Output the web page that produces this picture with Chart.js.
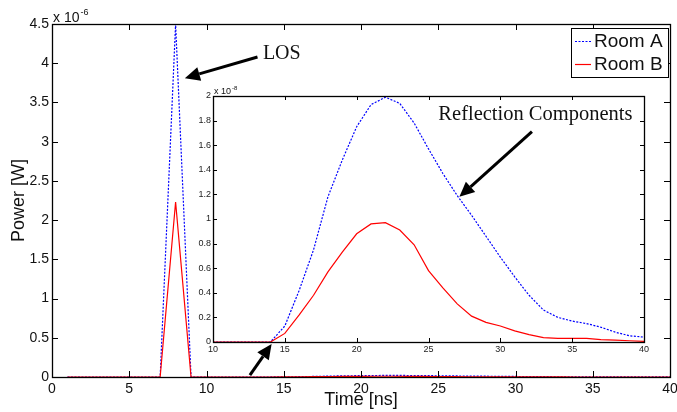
<!DOCTYPE html>
<html>
<head>
<meta charset="utf-8">
<script src="https://cdn.jsdelivr.net/npm/chart.js@4.4.1/dist/chart.umd.min.js"></script>
<style>
  html, body { margin: 0; padding: 0; background: #fff; }
  #wrap { position: relative; width: 677px; height: 412px; }
  canvas { position: absolute; left: 0; top: 0; }
</style>
</head>
<body>
<div id="wrap">
  <canvas id="mainChart" width="677" height="412"></canvas>
  <canvas id="insetChart" width="677" height="412"></canvas>
</div>
<script>
// time axis [ns]
const timeNs = [1, 2, 3, 4, 5, 6, 7, 8, 9, 10, 11, 12, 13, 14, 15, 16, 17, 18, 19, 20,
                21, 22, 23, 24, 25, 26, 27, 28, 29, 30, 31, 32, 33, 34, 35, 36, 37, 38, 39, 40];

// received power [W]
const roomA = [0, 0, 0, 0, 0, 0, 0, 4.5e-6, 0, 0, 0, 0, 0, 0,
  0.13e-8, 0.42e-8, 0.75e-8, 1.18e-8, 1.48e-8, 1.75e-8, 1.93e-8, 1.99e-8, 1.94e-8, 1.78e-8,
  1.57e-8, 1.37e-8, 1.19e-8, 1.03e-8, 0.86e-8, 0.69e-8, 0.53e-8, 0.38e-8, 0.26e-8, 0.20e-8,
  0.17e-8, 0.15e-8, 0.12e-8, 0.08e-8, 0.05e-8, 0.04e-8];
const roomB = [0, 0, 0, 0, 0, 0, 0, 2.23e-6, 0, 0, 0, 0, 0, 0,
  0.07e-8, 0.22e-8, 0.38e-8, 0.57e-8, 0.73e-8, 0.88e-8, 0.96e-8, 0.97e-8, 0.91e-8, 0.79e-8,
  0.58e-8, 0.44e-8, 0.31e-8, 0.21e-8, 0.16e-8, 0.13e-8, 0.09e-8, 0.06e-8, 0.035e-8, 0.03e-8,
  0.03e-8, 0.03e-8, 0.02e-8, 0.015e-8, 0.01e-8, 0.005e-8];

// tick values / labels
const mainXTicks = [0, 5, 10, 15, 20, 25, 30, 35, 40];
const mainYTicks = [0, 0.5e-6, 1e-6, 1.5e-6, 2e-6, 2.5e-6, 3e-6, 3.5e-6, 4e-6, 4.5e-6];
const mainYLabels = ['0', '0.5', '1', '1.5', '2', '2.5', '3', '3.5', '4', '4.5'];
const insetXTicks = [10, 15, 20, 25, 30, 35, 40];
const insetYTicks = [0, 0.2e-8, 0.4e-8, 0.6e-8, 0.8e-8, 1e-8, 1.2e-8, 1.4e-8, 1.6e-8, 1.8e-8, 2e-8];
const insetYLabels = ['0', '0.2', '0.4', '0.6', '0.8', '1', '1.2', '1.4', '1.6', '1.8', '2'];

const SANS = '"Liberation Sans", Arial, sans-serif';
const SERIF = '"Liberation Serif", "Times New Roman", serif';

function toPoints(ys) {
  return timeNs.map((t, i) => ({ x: t, y: ys[i] }));
}

function makeDatasets() {
  return [
    { label: 'Room A', data: toPoints(roomA), borderColor: '#0000ff', borderWidth: 1.2,
      borderDash: [2, 1.5], pointRadius: 0, order: 1 },
    { label: 'Room B', data: toPoints(roomB), borderColor: '#ff0000', borderWidth: 1.2,
      pointRadius: 0, order: 0 }
  ];
}

function drawArrow(ctx, x1, y1, x2, y2) {
  const head = 15, half = 7;
  const ang = Math.atan2(y2 - y1, x2 - x1);
  const bx = x2 - head * Math.cos(ang), by = y2 - head * Math.sin(ang);
  ctx.save();
  ctx.strokeStyle = '#000';
  ctx.fillStyle = '#000';
  ctx.lineWidth = 3;
  ctx.beginPath();
  ctx.moveTo(x1, y1);
  ctx.lineTo(bx, by);
  ctx.stroke();
  ctx.beginPath();
  ctx.moveTo(x2, y2);
  ctx.lineTo(bx + half * Math.sin(ang), by - half * Math.cos(ang));
  ctx.lineTo(bx - half * Math.sin(ang), by + half * Math.cos(ang));
  ctx.closePath();
  ctx.fill();
  ctx.restore();
}

// matlab style box with inward ticks on all four sides
function boxTicks(len) {
  return {
    id: 'boxTicks',
    afterDatasetsDraw(chart) {
      const { ctx, chartArea: a, scales: { x, y } } = chart;
      ctx.save();
      ctx.strokeStyle = '#000';
      ctx.lineWidth = 1;
      ctx.beginPath();
      x.ticks.forEach(t => {
        const px = Math.round(x.getPixelForValue(t.value)) + 0.5;
        ctx.moveTo(px, a.bottom); ctx.lineTo(px, a.bottom - len);
        ctx.moveTo(px, a.top); ctx.lineTo(px, a.top + len);
      });
      y.ticks.forEach(t => {
        const py = Math.round(y.getPixelForValue(t.value)) + 0.5;
        ctx.moveTo(a.left, py); ctx.lineTo(a.left + len, py);
        ctx.moveTo(a.right, py); ctx.lineTo(a.right - len, py);
      });
      ctx.stroke();
      ctx.lineWidth = 1.3;
      ctx.strokeRect(Math.round(a.left) + 0.5, Math.round(a.top) + 0.5,
        Math.round(a.right - a.left), Math.round(a.bottom - a.top));
      ctx.restore();
    }
  };
}

function exponentLabel(exp, big, small) {
  return {
    id: 'expLabel',
    afterDraw(chart) {
      const { ctx, chartArea: a } = chart;
      ctx.save();
      ctx.fillStyle = '#111';
      ctx.textBaseline = 'alphabetic';
      ctx.font = big + 'px ' + SANS;
      const base = 'x 10';
      ctx.fillText(base, a.left + 1, a.top - 2);
      const w = ctx.measureText(base).width;
      ctx.font = small + 'px ' + SANS;
      ctx.fillText(exp, a.left + 2 + w, a.top - 2 - big * 0.5);
      ctx.restore();
    }
  };
}

const mainLegend = {
  id: 'boxLegend',
  afterDraw(chart) {
    const { ctx, chartArea: a } = chart;
    const w = 97, h = 49;
    const x0 = a.right - 2 - w, y0 = a.top + 4;
    ctx.save();
    ctx.fillStyle = '#fff';
    ctx.fillRect(x0, y0, w, h);
    ctx.strokeStyle = '#000';
    ctx.lineWidth = 1;
    ctx.strokeRect(x0 + 0.5, y0 + 0.5, w, h);
    ctx.font = '19px ' + SANS;
    ctx.textBaseline = 'middle';
    chart.data.datasets.forEach((ds, i) => {
      const cy = y0 + 13 + i * 23;
      ctx.strokeStyle = ds.borderColor;
      ctx.lineWidth = 1.2;
      ctx.setLineDash(ds.borderDash || []);
      ctx.beginPath();
      ctx.moveTo(x0 + 4, cy + 0.5);
      ctx.lineTo(x0 + 20, cy + 0.5);
      ctx.stroke();
      ctx.setLineDash([]);
      ctx.fillStyle = '#111';
      ctx.fillText(ds.label, x0 + 23, cy + 1);
    });
    ctx.restore();
  }
};

// annotation placements, in data units of each chart
const losNote = { text: 'LOS', at: [13.65, 4.12e-6], from: [13.3, 4.08e-6], to: [8.6, 3.81e-6] };
const reflNote = { text: 'Reflection Components', at: [39.2, 1.85e-8], from: [32.2, 1.71e-8], to: [27.15, 1.18e-8] };
const startNote = { from: [12.57, -0.27e-8], to: [14.08, -0.016e-8] };

const mainNotes = {
  id: 'mainNotes',
  afterDraw(chart) {
    const { ctx, scales: { x, y } } = chart;
    drawArrow(ctx, x.getPixelForValue(losNote.from[0]), y.getPixelForValue(losNote.from[1]),
      x.getPixelForValue(losNote.to[0]), y.getPixelForValue(losNote.to[1]));
    ctx.save();
    ctx.font = '20px ' + SERIF;
    ctx.fillStyle = '#111';
    ctx.textBaseline = 'middle';
    ctx.fillText(losNote.text, x.getPixelForValue(losNote.at[0]), y.getPixelForValue(losNote.at[1]));
    ctx.restore();
  }
};

const insetNotes = {
  id: 'insetNotes',
  beforeDraw(chart) {
    const { ctx, chartArea: a } = chart;
    ctx.save();
    ctx.fillStyle = '#fff';
    ctx.fillRect(a.left, a.top, a.right - a.left, a.bottom - a.top);
    ctx.restore();
  },
  afterDraw(chart) {
    const { ctx, scales: { x, y } } = chart;
    drawArrow(ctx, x.getPixelForValue(reflNote.from[0]), y.getPixelForValue(reflNote.from[1]),
      x.getPixelForValue(reflNote.to[0]), y.getPixelForValue(reflNote.to[1]));
    drawArrow(ctx, x.getPixelForValue(startNote.from[0]), y.getPixelForValue(startNote.from[1]),
      x.getPixelForValue(startNote.to[0]), y.getPixelForValue(startNote.to[1]));
    ctx.save();
    ctx.font = '20.5px ' + SERIF;
    ctx.fillStyle = '#111';
    ctx.textAlign = 'right';
    ctx.textBaseline = 'middle';
    ctx.fillText(reflNote.text, x.getPixelForValue(reflNote.at[0]), y.getPixelForValue(reflNote.at[1]));
    ctx.restore();
  }
};

function noSidePad(s) { s.paddingLeft = 0; s.paddingRight = 0; }

new Chart(document.getElementById('mainChart'), {
  type: 'line',
  data: { datasets: makeDatasets() },
  options: {
    responsive: false,
    animation: false,
    events: [],
    layout: { padding: { left: 0, right: 7, top: 24, bottom: 0 } },
    plugins: { legend: { display: false }, tooltip: { enabled: false } },
    scales: {
      x: {
        type: 'linear', min: 0, max: 40,
        grid: { display: false, drawTicks: false },
        border: { display: false },
        afterBuildTicks: s => { s.ticks = mainXTicks.map(v => ({ value: v })); },
        afterFit: s => { s.height = 35; noSidePad(s); },
        ticks: { font: { family: SANS, size: 14 }, color: '#111', padding: 4, maxRotation: 0 },
        title: { display: true, text: 'Time [ns]', color: '#111',
                 font: { family: SANS, size: 18 }, padding: { top: 0, bottom: 1 } }
      },
      y: {
        type: 'linear', min: 0, max: 4.5e-6,
        grid: { display: false, drawTicks: false },
        border: { display: false },
        afterBuildTicks: s => { s.ticks = mainYTicks.map(v => ({ value: v })); },
        afterFit: s => { s.width = 52; },
        ticks: { font: { family: SANS, size: 14 }, color: '#111', padding: 3,
                 callback: (v, i) => mainYLabels[i] },
        title: { display: true, text: 'Power [W]', color: '#111',
                 font: { family: SANS, size: 18 }, padding: { top: 8, bottom: 0 } }
      }
    }
  },
  plugins: [boxTicks(6), exponentLabel('-6', 14, 9), mainLegend, mainNotes]
});

new Chart(document.getElementById('insetChart'), {
  type: 'line',
  data: { datasets: makeDatasets() },
  options: {
    responsive: false,
    animation: false,
    events: [],
    layout: { padding: { left: 183, right: 33, top: 96, bottom: 56 } },
    plugins: { legend: { display: false }, tooltip: { enabled: false } },
    scales: {
      x: {
        type: 'linear', min: 10, max: 40,
        grid: { display: false, drawTicks: false },
        border: { display: false },
        afterBuildTicks: s => { s.ticks = insetXTicks.map(v => ({ value: v })); },
        afterFit: s => { s.height = 14; noSidePad(s); },
        ticks: { font: { family: SANS, size: 9 }, color: '#222', padding: 2, maxRotation: 0 }
      },
      y: {
        type: 'linear', min: 0, max: 2e-8,
        grid: { display: false, drawTicks: false },
        border: { display: false },
        afterBuildTicks: s => { s.ticks = insetYTicks.map(v => ({ value: v })); },
        afterFit: s => { s.width = 30; s.paddingTop = 0; s.paddingBottom = 0; },
        ticks: { font: { family: SANS, size: 9 }, color: '#222', padding: 2,
                 callback: (v, i) => insetYLabels[i] }
      }
    }
  },
  plugins: [boxTicks(4), exponentLabel('-8', 9, 6), insetNotes]
});
</script>
</body>
</html>
